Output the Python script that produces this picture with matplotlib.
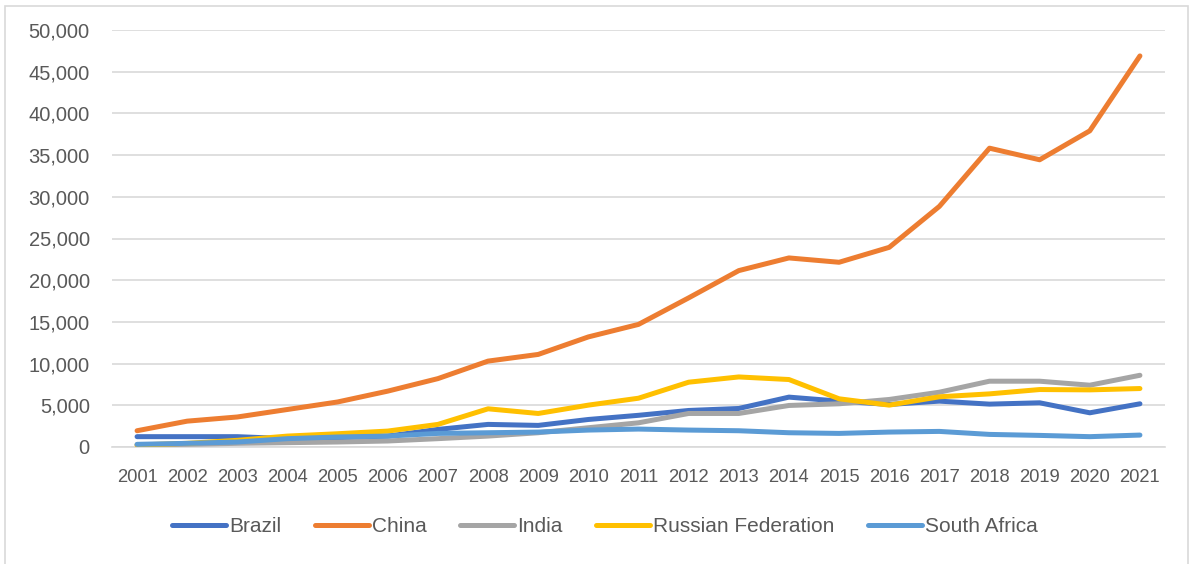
import matplotlib
matplotlib.use("Agg")
import matplotlib.pyplot as plt
from matplotlib.ticker import FuncFormatter, MultipleLocator
from matplotlib.patches import Rectangle

years = list(range(2001, 2022))
brazil = [1240, 1240, 1240, 1000, 1120, 1310, 2110, 2710, 2590, 3300, 3800,
          4380, 4620, 5980, 5500, 5100, 5500, 5140, 5300, 4100, 5180]
china = [1950, 3100, 3600, 4500, 5400, 6700, 8200, 10300, 11100, 13200, 14700,
         17880, 21150, 22670, 22150, 23940, 28850, 35830, 34440, 37910, 46890]
india = [240, 320, 440, 520, 600, 720, 1000, 1310, 1710, 2310, 2900,
         4020, 4020, 4980, 5180, 5700, 6570, 7890, 7890, 7410, 8600]
russia = [240, 440, 800, 1310, 1590, 1910, 2710, 4580, 4020, 5020, 5850,
          7770, 8400, 8090, 5780, 5020, 6020, 6370, 6890, 6850, 7010]
south_africa = [320, 440, 600, 1000, 1200, 1310, 1630, 1710, 1790, 2030, 2150,
                2030, 1950, 1710, 1630, 1790, 1870, 1510, 1390, 1240, 1430]

series = [
    ("Brazil", brazil, "#4472C4"),
    ("China", china, "#ED7D31"),
    ("India", india, "#A5A5A5"),
    ("Russian Federation", russia, "#FFC000"),
    ("South Africa", south_africa, "#5B9BD5"),
]

plt.rcParams["font.family"] = ["Liberation Sans", "DejaVu Sans"]
TXT = "#595959"

W, H = 1197, 564
fig = plt.figure(figsize=(W / 100, H / 100), dpi=100)
fig.patch.set_facecolor("white")
fig.patches.append(Rectangle((5 / W, -0.01), (1188 - 5) / W, 1.0, transform=fig.transFigure,
                             fill=False, edgecolor="#D9D9D9", linewidth=1.2))

ax = fig.add_axes([112 / W, 1 - 447 / H, (1165 - 112) / W, (447 - 30) / H])
for name, vals, col in series:
    ax.plot(years, vals, color=col, linewidth=3.6, label=name, solid_capstyle="round",
            solid_joinstyle="round", zorder=3)

ax.set_xlim(2000.5, 2021.5)
ax.set_ylim(0, 50000)
ax.yaxis.set_major_locator(MultipleLocator(5000))
ax.yaxis.set_major_formatter(FuncFormatter(lambda v, p: f"{int(v):,}"))
ax.set_xticks(years)
ax.set_xticklabels([str(y) for y in years])
ax.grid(axis="y", color="#D9D9D9", linewidth=1.2, zorder=0)
ax.set_axisbelow(True)
for s in ax.spines.values():
    s.set_visible(False)
ax.spines["bottom"].set_visible(True)
ax.spines["bottom"].set_color("#D9D9D9")
ax.spines["bottom"].set_linewidth(1.2)
ax.tick_params(axis="both", length=0, colors=TXT)
ax.tick_params(axis="y", pad=16, labelsize=14.5)
ax.tick_params(axis="x", pad=16, labelsize=13.2)

leg = fig.legend(loc="center", bbox_to_anchor=(605 / W, 1 - 527 / H), ncol=5, frameon=False,
                 fontsize=15, handlelength=2.6, handletextpad=0.15, columnspacing=1.6)
for t in leg.get_texts():
    t.set_color(TXT)
for l in leg.get_lines():
    l.set_linewidth(3.6)

fig.savefig("out.png", dpi=100, facecolor="white")
